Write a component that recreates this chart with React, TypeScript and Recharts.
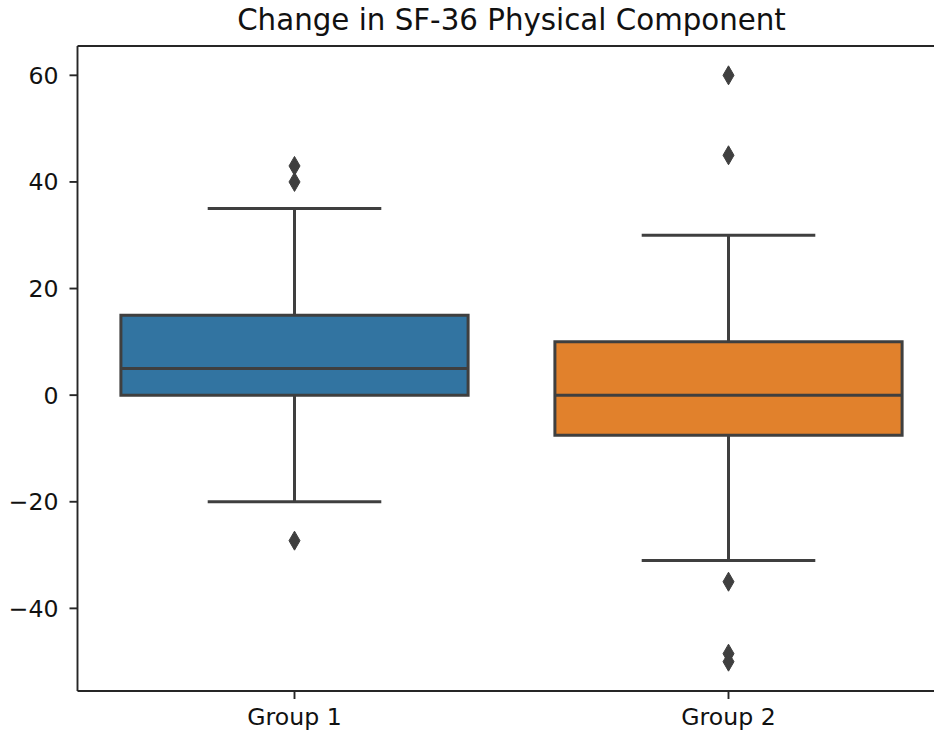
import React from 'react';
import {
  ComposedChart,
  XAxis,
  YAxis,
  Scatter,
  ReferenceArea,
  ReferenceLine,
} from 'recharts';

// Box-plot summary per group
const groups = ['Group 1', 'Group 2'];
const whiskerLow = [-20, -31];
const q1 = [0, -7.5];
const median = [5, 0];
const q3 = [15, 10];
const whiskerHigh = [35, 30];
const boxColors = ['#3274a1', '#e1812c'];

// Outliers per group
const fliersGroup1 = [43, 40, -27.3];
const fliersGroup2 = [60, 45, -35, -48.5, -50];

const yTicks = [-40, -20, 0, 20, 40, 60];
const yDomain: [number, number] = [-55.5, 65.5];
const xDomain: [number, number] = [-0.5, 1.5];

const fliers = [
  ...fliersGroup1.map((v) => ({ x: 0, y: v })),
  ...fliersGroup2.map((v) => ({ x: 1, y: v })),
];

const LINE = '#3f3f3f';
const SPINE = '#262626';
const FONT = '"DejaVu Sans", sans-serif';
const BOX_HALF = 0.4;
const CAP_HALF = 0.2;

const Diamond = (props: any) => {
  const { cx, cy } = props;
  if (cx == null || cy == null) return null;
  const hw = 5.5;
  const hh = 9.5;
  return (
    <polygon
      points={`${cx},${cy - hh} ${cx + hw},${cy} ${cx},${cy + hh} ${cx - hw},${cy}`}
      fill={LINE}
      stroke={LINE}
      strokeWidth={1}
    />
  );
};

const fmtY = (v: number) => (v < 0 ? `\u2212${Math.abs(v)}` : `${v}`);
const fmtX = (v: number) => groups[v] ?? '';

export default function App() {
  return (
    <div
      style={{
        position: 'absolute',
        left: 0,
        top: 0,
        width: 934,
        height: 734,
        overflow: 'hidden',
        background: '#fff',
      }}
    >
      <svg
        width={934}
        height={40}
        style={{ position: 'absolute', left: 0, top: 0 }}
      >
        <text
          x={511.5}
          y={30}
          textAnchor="middle"
          fontFamily={FONT}
          fontSize={29.3}
          fill="#111"
        >
          Change in SF-36 Physical Component
        </text>
      </svg>
      <ComposedChart
        width={960}
        height={734}
        margin={{ top: 46, right: 14.5, bottom: 0, left: 7.5 }}
        style={{ position: 'absolute', left: 0, top: 0 }}
      >
        <XAxis
          dataKey="x"
          type="number"
          domain={xDomain}
          ticks={[0, 1]}
          tickFormatter={fmtX}
          allowDataOverflow
          height={43}
          tickSize={8}
          tickMargin={9}
          axisLine={{ stroke: SPINE, strokeWidth: 1.9 }}
          tickLine={{ stroke: SPINE, strokeWidth: 1.9 }}
          tick={{ fill: '#111', fontSize: 23.6, fontFamily: FONT }}
        />
        <YAxis
          dataKey="y"
          type="number"
          domain={yDomain}
          ticks={yTicks}
          tickFormatter={fmtY}
          allowDataOverflow
          width={70}
          tickSize={8}
          tickMargin={11}
          axisLine={{ stroke: SPINE, strokeWidth: 1.9 }}
          tickLine={{ stroke: SPINE, strokeWidth: 1.9 }}
          tick={{ fill: '#111', fontSize: 23.6, fontFamily: FONT }}
        />
        {/* top and right spines */}
        <ReferenceLine y={yDomain[1]} stroke={SPINE} strokeWidth={1.9} />
        <ReferenceLine x={xDomain[1]} stroke={SPINE} strokeWidth={1.9} />

        {groups.map((g, i) => (
          <ReferenceLine
            key={`wu-${g}`}
            segment={[
              { x: i, y: q3[i] },
              { x: i, y: whiskerHigh[i] },
            ]}
            stroke={LINE}
            strokeWidth={3}
          />
        ))}
        {groups.map((g, i) => (
          <ReferenceLine
            key={`wl-${g}`}
            segment={[
              { x: i, y: whiskerLow[i] },
              { x: i, y: q1[i] },
            ]}
            stroke={LINE}
            strokeWidth={3}
          />
        ))}
        {groups.map((g, i) => (
          <ReferenceLine
            key={`cu-${g}`}
            segment={[
              { x: i - CAP_HALF, y: whiskerHigh[i] },
              { x: i + CAP_HALF, y: whiskerHigh[i] },
            ]}
            stroke={LINE}
            strokeWidth={3}
          />
        ))}
        {groups.map((g, i) => (
          <ReferenceLine
            key={`cl-${g}`}
            segment={[
              { x: i - CAP_HALF, y: whiskerLow[i] },
              { x: i + CAP_HALF, y: whiskerLow[i] },
            ]}
            stroke={LINE}
            strokeWidth={3}
          />
        ))}
        {groups.map((g, i) => (
          <ReferenceArea
            key={`box-${g}`}
            x1={i - BOX_HALF}
            x2={i + BOX_HALF}
            y1={q1[i]}
            y2={q3[i]}
            fill={boxColors[i]}
            fillOpacity={1}
            stroke={LINE}
            strokeWidth={3}
          />
        ))}
        {groups.map((g, i) => (
          <ReferenceLine
            key={`med-${g}`}
            segment={[
              { x: i - BOX_HALF, y: median[i] },
              { x: i + BOX_HALF, y: median[i] },
            ]}
            stroke={LINE}
            strokeWidth={3}
          />
        ))}
        <Scatter
          data={fliers}
          dataKey="y"
          shape={<Diamond />}
          isAnimationActive={false}
        />
      </ComposedChart>
    </div>
  );
}
